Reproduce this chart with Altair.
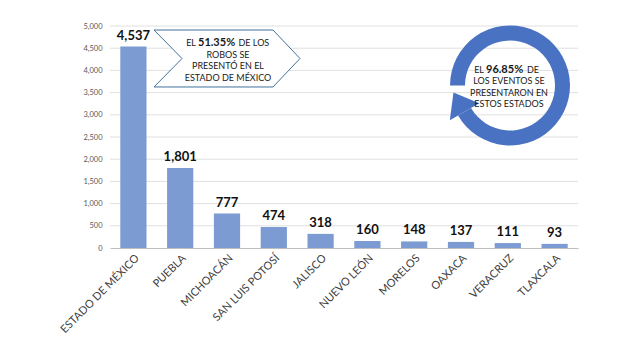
import math
import altair as alt
import pandas as pd

estados = ["ESTADO DE MÉXICO", "PUEBLA", "MICHOACÁN", "SAN LUIS POTOSÍ", "JALISCO",
           "NUEVO LEÓN", "MORELOS", "OAXACA", "VERACRUZ", "TLAXCALA"]
robos = [4537, 1801, 777, 474, 318, 160, 148, 137, 111, 93]
y_ticks = list(range(0, 5001, 500))

df = pd.DataFrame({"estado": estados, "robos": robos})
grid_df = pd.DataFrame({"robos": y_ticks[1:]})
one = pd.DataFrame({"k": [0]})

# plot area origin in page pixels
OX, OY = 110, 26
W, H = 468, 222

FONT = "Lato"
BAR = "#7b9bd2"
RING = "#4a72c2"

x_enc = alt.X("estado:N", sort=None,
              scale=alt.Scale(paddingInner=0.44, paddingOuter=0.22),
              axis=alt.Axis(title=None, labelAngle=-45, labelFontSize=11, labelFont=FONT,
                            labelColor="#404040", ticks=False, domainColor="#bfbfbf",
                            labelPadding=4, grid=False))
y_scale = alt.Scale(domain=[0, 5000], nice=False)
y_enc = alt.Y("robos:Q", scale=y_scale,
              axis=alt.Axis(title=None, values=y_ticks, format=",d", labelFontSize=7.5,
                            labelFont=FONT, labelColor="#595959", ticks=False, domain=False,
                            grid=False, labelPadding=8))

grid = alt.Chart(grid_df).mark_rule(color="#e0e0e0", strokeWidth=1).encode(y=y_enc)
bars = alt.Chart(df).mark_bar(color=BAR).encode(x=x_enc, y=y_enc)
labels = alt.Chart(df).mark_text(dy=-4, baseline="bottom", fontSize=13, fontWeight="bold",
                                 font=FONT, color="#111111").encode(
    x=x_enc, y=y_enc, text=alt.Text("robos:Q", format=",d"))

# chevron call-out
chev_path = "M -1 -0.39 L 0.63 -0.39 L 1 0 L 0.63 0.39 L -1 0.39 L -0.616 0 Z"
chevron = alt.Chart(one).mark_point(shape=chev_path, size=146 * 146, filled=True,
                                    fill="#ffffff", stroke="#41719c", strokeWidth=1,
                                    opacity=1).encode(
    x=alt.value(227 - OX), y=alt.value(58.5 - OY))

def txt(s, x, y, size=9, bold=False, align="center"):
    return alt.Chart(one).mark_text(text=s, fontSize=size, font=FONT, color="#1a1a1a",
                                    fontWeight="bold" if bold else "normal",
                                    align=align, baseline="alphabetic").encode(
        x=alt.value(x - OX), y=alt.value(y - OY))

chev_txt = [
    txt("EL", 196, 46, align="right"),
    txt("51.35%", 198, 46, size=11, bold=True, align="left"),
    txt("DE LOS", 238.5, 46, align="left"),
    txt("ROBOS SE", 228, 57.5),
    txt("PRESENTÓ EN EL", 228, 69),
    txt("ESTADO DE MÉXICO", 228, 80.5),
]

# circular arrow
CX, CY = 510, 85.5
R_OUT, R_IN = 60, 45
t0, t1 = 270, 600
ring = alt.Chart(one).mark_arc(color=RING, radius=R_OUT, radius2=R_IN,
                               theta=math.radians(t0), theta2=math.radians(t1)).encode(
    x=alt.value(CX - OX), y=alt.value(CY - OY))
te = math.radians(t1 - 360)
rm = (R_OUT + R_IN) / 2
ax = CX + rm * math.sin(te)
ay = CY - rm * math.cos(te)
arrow = alt.Chart(one).mark_point(shape="M 0 -1.3 L 1 0 L -1 0 Z", size=34 * 34, filled=True,
                                  color=RING, opacity=1, angle=(t1 - 360 + 90) % 360).encode(
    x=alt.value(ax - OX), y=alt.value(ay - OY))

ring_txt = [
    txt("EL", 484, 72.5, align="right"),
    txt("96.85%", 486, 72.5, size=11, bold=True, align="left"),
    txt("DE", 527, 72.5, align="left"),
    txt("LOS EVENTOS SE", 509, 84),
    txt("PRESENTARON EN", 509, 95.5),
    txt("ESTOS ESTADOS", 509, 107),
]

chart = alt.layer(grid, bars, labels, chevron, *chev_txt, ring, arrow, *ring_txt).properties(
    width=W, height=H,
    autosize=alt.AutoSizeParams(type="none"),
    padding={"left": OX, "top": OY, "right": 623 - OX - W, "bottom": 351 - OY - H},
    background="#ffffff",
).configure_view(stroke=None)

chart.save("out.html", embed_options={"renderer": "svg", "actions": False})
